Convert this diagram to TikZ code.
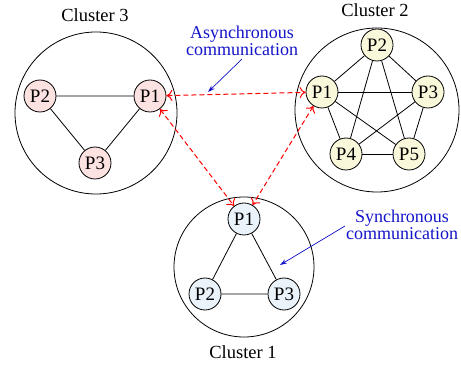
\documentclass[tikz,border=0pt]{standalone}
\usepackage{fontspec}
\setmainfont{Liberation Serif}
\usetikzlibrary{arrows.meta}
\definecolor{pinkfill}{RGB}{253,226,226}
\definecolor{yellowfill}{RGB}{250,248,218}
\definecolor{bluefill}{RGB}{234,243,250}
\definecolor{annot}{RGB}{20,20,200}
\tikzset{
  proc/.style={circle, draw, line width=0.8pt, minimum size=32pt, inner sep=0pt,
    font=\fontsize{19}{20}\selectfont},
  cluster/.style={circle, draw, line width=0.8pt, inner sep=0pt},
  clabel/.style={font=\fontsize{18.5}{20}\selectfont},
  link/.style={line width=0.8pt},
  async/.style={red, line width=1pt, dash pattern=on 5pt off 3pt,
    {To[length=6pt,width=11pt]}-{To[length=6pt,width=11pt]}},
  note/.style={annot, align=center, font=\fontsize{18}{17.5}\selectfont},
  pointer/.style={annot, line width=0.7pt, -{Stealth[length=7pt,width=4.5pt]}}
}
\begin{document}
\begin{tikzpicture}[x=1pt, y=-1pt]
\useasboundingbox (0,0) rectangle (461,366);

% Cluster 3
\node[cluster, minimum size=162pt] (c3) at (96,113) {};
\node[clabel] (l3) at (95,15) {Cluster 3};
\node[proc, fill=pinkfill] (a1) at (150,96) {P1};
\node[proc, fill=pinkfill] (a2) at (40,96) {P2};
\node[proc, fill=pinkfill] (a3) at (95,163) {P3};
\draw[link] (a1) -- (a2) (a2) -- (a3) (a3) -- (a1);

% Cluster 2
\node[cluster, minimum size=164pt] (c2) at (377,110) {};
\node[clabel] (l2) at (375,10) {Cluster 2};
\node[proc, fill=yellowfill] (b1) at (322,92) {P1};
\node[proc, fill=yellowfill] (b2) at (377,45) {P2};
\node[proc, fill=yellowfill] (b3) at (428,92) {P3};
\node[proc, fill=yellowfill] (b4) at (346,154) {P4};
\node[proc, fill=yellowfill] (b5) at (409,154) {P5};
\foreach \u/\v in {b1/b2,b1/b3,b1/b4,b1/b5,b2/b3,b2/b4,b2/b5,b3/b4,b3/b5,b4/b5}
  \draw[link] (\u) -- (\v);

% Cluster 1
\node[cluster, minimum size=140pt] (c1) at (244,267) {};
\node[clabel] (l1) at (243,352) {Cluster 1};
\node[proc, fill=bluefill] (d1) at (244,219) {P1};
\node[proc, fill=bluefill] (d2) at (205,294) {P2};
\node[proc, fill=bluefill] (d3) at (284,294) {P3};
\draw[link] (d1) -- (d2) (d2) -- (d3) (d3) -- (d1);

% Asynchronous links between clusters
\draw[async] (a1) -- (b1);
\draw[async] (a1) -- (d1);
\draw[async] (b1) -- (d1);

% Annotations
\node[note] (an) at (242,41) {Asynchronous\\communication};
\coordinate (anfrom) at (242,59);
\coordinate (anto) at (208,92);
\draw[pointer] (anfrom) -- (anto);

\node[note] (sn) at (402,225) {Synchronous\\communication};
\coordinate (snfrom) at (345,226);
\coordinate (snto) at (280,265);
\draw[pointer] (snfrom) -- (snto);
\end{tikzpicture}
\end{document}
